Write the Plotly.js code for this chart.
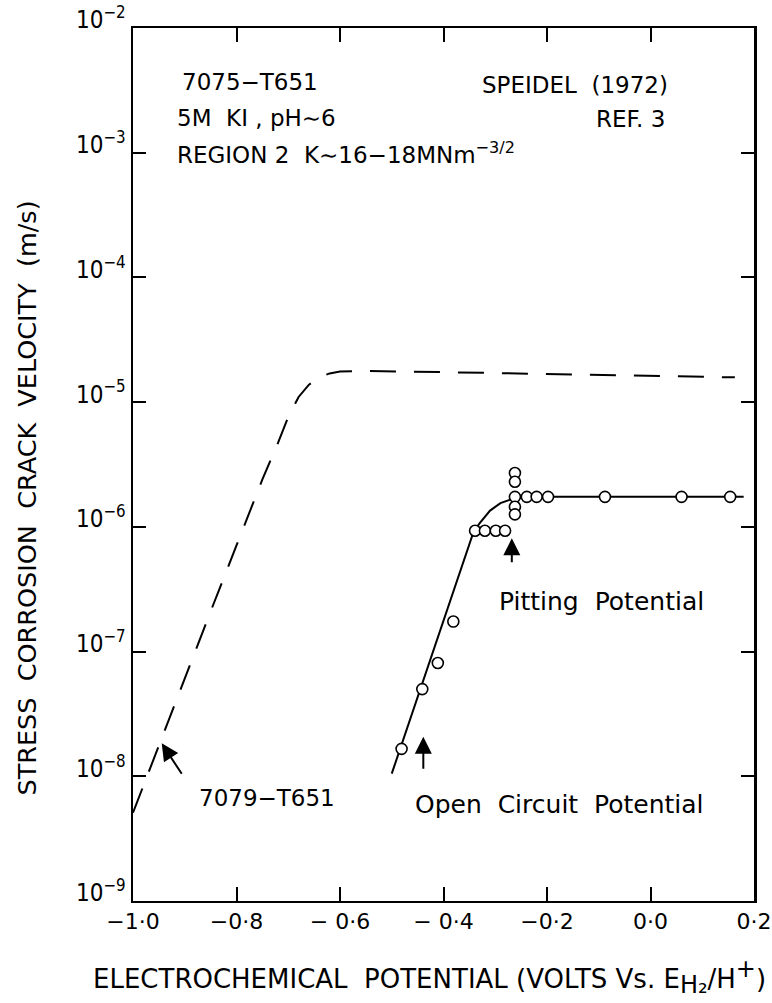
<!DOCTYPE html>
<html>
<head>
<meta charset="utf-8">
<script src="https://cdn.plot.ly/plotly-3.0.1.min.js"></script>
<style>html,body{margin:0;padding:0;background:#fff;}#chart{width:772px;height:1003px;}</style>
</head>
<body>
<div id="chart"></div>
<script>
// 7079-T651 (dashed curve): potential (V) and crack velocity (m/s)
var alloy7079X = [-1.0, -0.95, -0.90, -0.85, -0.80, -0.75, -0.72, -0.70, -0.68, -0.66, -0.64, -0.62, -0.60, -0.55, -0.40, -0.20, 0.00, 0.163];
var alloy7079V = [5.1e-9, 1.78e-8, 6.2e-8, 2.1e-7, 7.1e-7, 2.4e-6, 4.7e-6, 7.6e-6, 1.1e-5, 1.38e-5, 1.58e-5, 1.7e-5, 1.76e-5, 1.78e-5, 1.74e-5, 1.68e-5, 1.62e-5, 1.58e-5];

// 7075-T651 (solid fitted curve)
var alloy7075X = [-0.50, -0.45, -0.40, -0.36, -0.342, -0.33, -0.31, -0.29, -0.27, -0.25, -0.20, 0.18];
var alloy7075V = [1.05e-8, 4.3e-8, 1.78e-7, 5.5e-7, 9.1e-7, 1.07e-6, 1.35e-6, 1.55e-6, 1.66e-6, 1.72e-6, 1.74e-6, 1.74e-6];

// 7075-T651 measured points (open circles)
var pointsX = [-0.481, -0.441, -0.411, -0.381, -0.339, -0.320, -0.299, -0.281, -0.262, -0.262, -0.262, -0.262, -0.262, -0.239, -0.220, -0.198, -0.088, 0.060, 0.154];
var pointsV = [1.66e-8, 5.0e-8, 8.1e-8, 1.74e-7, 9.3e-7, 9.3e-7, 9.3e-7, 9.3e-7, 2.7e-6, 2.3e-6, 1.74e-6, 1.45e-6, 1.26e-6, 1.74e-6, 1.74e-6, 1.74e-6, 1.74e-6, 1.74e-6, 1.74e-6];

// tick labels
var xTickVals = [-1.0, -0.8, -0.6, -0.4, -0.2, 0.0, 0.2];
var xTickText = ["\u22121\u00b70", "\u22120\u00b78", "\u2212 0\u00b76", "\u2212 0\u00b74", "\u22120\u00b72", "0\u00b70", "0\u00b72"];
var yTickVals = [1e-9, 1e-8, 1e-7, 1e-6, 1e-5, 1e-4, 1e-3, 1e-2];
var yTickText = ["10<sup>\u22129</sup>", "10<sup>\u22128</sup>", "10<sup>\u22127</sup>", "10<sup>\u22126</sup>", "10<sup>\u22125</sup>", "10<sup>\u22124</sup>", "10<sup>\u22123</sup>", "10<sup>\u22122</sup>"];

var COND = "DejaVu Sans Condensed, Liberation Sans Narrow, DejaVu Sans, sans-serif";
var FONT = "DejaVu Sans, Liberation Sans, sans-serif";

var traces = [
  {x: alloy7079X, y: alloy7079V, mode: 'lines', type: 'scatter',
   line: {color: '#000', width: 2, dash: '26px,18px'}, hoverinfo: 'skip'},
  {x: alloy7075X, y: alloy7075V, mode: 'lines', type: 'scatter',
   line: {color: '#000', width: 2}, hoverinfo: 'skip'},
  {x: pointsX, y: pointsV, mode: 'markers', type: 'scatter',
   marker: {symbol: 'circle', size: 11, color: '#fff', line: {color: '#000', width: 1.6}}}
];

function txt(x, y, t, anchor, size) {
  return {x: x, y: y, xref: 'x', yref: 'y', text: t, showarrow: false,
          xanchor: anchor || 'left', yanchor: 'middle',
          font: {family: FONT, size: size || 23, color: '#000'}};
}
function arrow(x, y, ax, ay) {
  return {x: x, y: y, xref: 'x', yref: 'y', text: ' ', showarrow: true,
          ax: ax, ay: ay, arrowhead: 2, arrowsize: 1.7, arrowwidth: 2, arrowcolor: '#000', standoff: 0};
}

var annotations = [
  txt(-0.909, -2.433, "7075\u2212T651"),
  txt(-0.919, -2.72, "5M  KI , pH\u223c6"),
  txt(-0.919, -3.0, "REGION 2  K\u223c16\u221218MNm<sup>\u22123/2</sup>"),
  txt(0.038, -2.457, "SPEIDEL  (1972)", 'right'),
  txt(0.032, -2.73, "REF. 3", 'right'),
  txt(-0.876, -8.175, "7079\u2212T651"),
  txt(-0.459, -8.23, "Open  Circuit  Potential", 'left', 25),
  txt(-0.297, -6.60, "Pitting  Potential", 'left', 25),
  arrow(-0.9445, -7.736, 25, 38),
  arrow(-0.439, -7.683, 0, 46),
  arrow(-0.268, -6.092, 0, 38),
  {xref: 'paper', yref: 'paper', x: -0.171, y: 0.462, text: "STRESS  CORROSION  CRACK  VELOCITY  (m/s)",
   textangle: -90, showarrow: false, xanchor: 'center', yanchor: 'middle', font: {family: FONT, size: 25.5, color: '#000'}},
  {xref: 'paper', yref: 'paper', x: 0.478, y: -0.087,
   text: "ELECTROCHEMICAL  POTENTIAL (VOLTS Vs. E<sub><span style=\"font-size:24px\">H\u2082</span></sub>/H<sup><span style=\"font-size:24px\">+</span></sup>)",
   showarrow: false, xanchor: 'center', yanchor: 'middle', font: {family: FONT, size: 26, color: '#000'}}
];

var layout = {
  width: 772, height: 1003,
  margin: {l: 133, r: 18, t: 28, b: 102, pad: 0},
  paper_bgcolor: '#fff', plot_bgcolor: '#fff',
  showlegend: false,
  font: {family: FONT, size: 22, color: '#000'},
  xaxis: {range: [-1.0, 0.2], tickvals: xTickVals, ticktext: xTickText,
          ticks: 'inside', ticklen: 14, tickwidth: 2, tickcolor: '#000',
          showline: true, linecolor: '#000', linewidth: 2, mirror: 'ticks',
          showgrid: false, zeroline: false, tickfont: {family: FONT, size: 22}},
  yaxis: {type: 'log', range: [-9, -2], tickvals: yTickVals, ticktext: yTickText,
          ticks: 'inside', ticklen: 13, tickwidth: 2, tickcolor: '#000',
          showline: true, linecolor: '#000', linewidth: 2.5, mirror: 'ticks',
          showgrid: false, zeroline: false, tickfont: {family: COND, size: 24},
          ticklabelshift: -8},
  annotations: annotations
};

Plotly.newPlot('chart', traces, layout, {staticPlot: true, displayModeBar: false});
</script>
</body>
</html>
